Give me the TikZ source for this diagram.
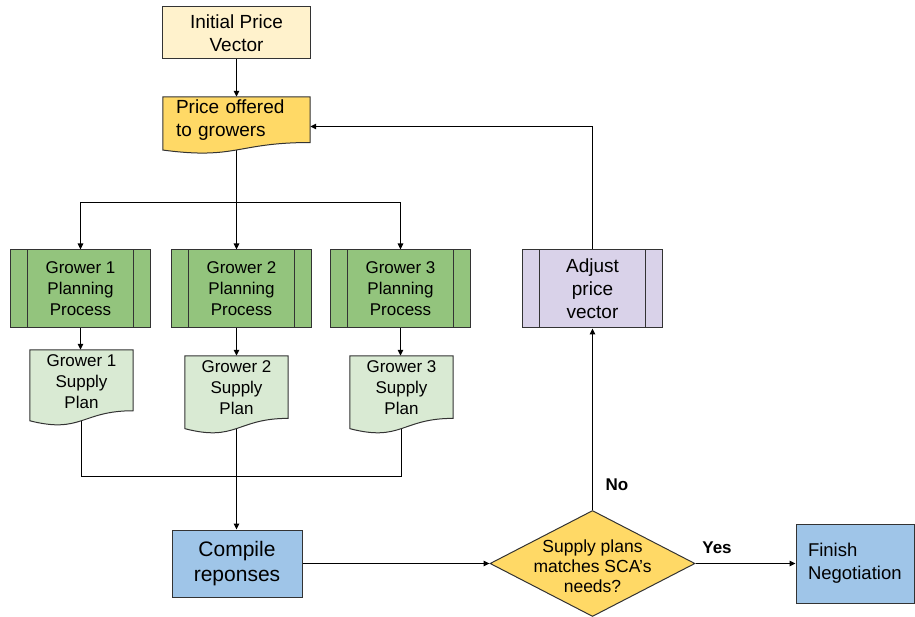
\documentclass[tikz,border=0pt]{standalone}
\usepackage{fontspec}
\setmainfont{Liberation Sans}
\usetikzlibrary{arrows.meta,shapes.geometric,calc}

\definecolor{edgecol}{HTML}{333333}
\definecolor{initfill}{HTML}{FFF2CC}
\definecolor{offerfill}{HTML}{FFD966}
\definecolor{procfill}{HTML}{93C47D}
\definecolor{planfill}{HTML}{D9EAD3}
\definecolor{adjfill}{HTML}{D9D2E9}
\definecolor{bluefill}{HTML}{9FC5E8}
\definecolor{decfill}{HTML}{FFD966}

% connectors go below the document outlines, which go below the boxes
\pgfdeclarelayer{lines}
\pgfdeclarelayer{docs}
\pgfsetlayers{lines,docs,main}

\newcommand\fs[2]{\fontsize{#1}{#2}\selectfont}

% document outline (wavy bottom) hung from a node's top edge; #3 = full height
\newcommand\docshape[3]{%
  \path[docline, fill=#2] let \p1=(#1.north west), \p2=(#1.north east) in
    (\p1) -- (\p2) -- (\x2,{\y1-0.802*#3})
    .. controls ({0.5*\x1+0.5*\x2},{\y1-0.802*#3}) and ({0.5*\x1+0.5*\x2},{\y1-1.107*#3})
    .. (\x1,{\y1-0.934*#3}) -- cycle;}

\begin{document}
\begin{tikzpicture}[x=1pt,y=1pt,
  box/.style={rectangle, draw=edgecol, line width=1pt, inner sep=0pt, align=center},
  proc/.style={box, minimum width=140pt, minimum height=78pt, font=\fs{17}{21},
    path picture={\draw[edgecol, line width=1pt]
      ([xshift=17pt]path picture bounding box.north west) -- ([xshift=17pt]path picture bounding box.south west)
      ([xshift=-17pt]path picture bounding box.north east) -- ([xshift=-17pt]path picture bounding box.south east);}},
  doctext/.style={rectangle, inner sep=0pt, align=center, font=\fs{17}{21},
    minimum width=103pt, minimum height=64pt},
  docline/.style={draw=edgecol, line width=1pt},
  conn/.style={draw=black, line width=1.1pt},
  arr/.style={conn, -{Triangle[length=6pt,width=5.5pt]}},
  tag/.style={font=\bfseries\fs{17}{20}, inner sep=0pt},
]
\useasboundingbox (0,0) rectangle (915,-617);

% top of the flow
\node[box, fill=initfill, minimum width=148pt, minimum height=52pt, font=\fs{19}{23}]
  (init) at (236.5,-33) {Initial Price\\Vector};
\node[rectangle, inner sep=0pt, inner xsep=13pt, text width=121pt, minimum height=46pt,
  align=left, font=\fs{19}{23}] (offer) at (236.5,-120) {Price offered\\to growers};

% growers
\node[proc, fill=procfill] (g1) at (80.5,-289) {Grower 1\\Planning\\Process};
\node[proc, fill=procfill] (g2) at (241.5,-289) {Grower 2\\Planning\\Process};
\node[proc, fill=procfill] (g3) at (400.5,-289) {Grower 3\\Planning\\Process};

\node[doctext] (s1) at (81.5,-382) {Grower 1\\Supply\\Plan};
\node[doctext] (s2) at (236.5,-388) {Grower 2\\Supply\\Plan};
\node[doctext] (s3) at (401.5,-388) {Grower 3\\Supply\\Plan};

% feedback loop
\node[proc, fill=adjfill, font=\fs{19}{23}] (adj) at (592.5,-289) {Adjust\\price\\vector};

% bottom row
\node[box, fill=bluefill, minimum width=130pt, minimum height=67pt, font=\fs{21}{25}]
  (comp) at (237,-563.5) {Compile\\reponses};
\node[diamond, draw=edgecol, line width=1pt, fill=decfill, minimum width=205pt,
  minimum height=106pt, inner sep=0pt] (dec) at (592.5,-563.5) {};
\node[font=\fs{17.5}{20}, align=center, inner sep=0pt] (dectext) at (592.5,-566)
  {Supply plans\\matches SCA's\\needs?};
\node[box, fill=bluefill, minimum width=118pt, minimum height=79pt, inner xsep=12pt,
  text width=94pt, align=left, font=\fs{18.5}{23}] (fin) at (855,-563.5) {Finish\\Negotiation};

\node[tag] (yes) at (717,-548) {Yes};
\node[tag] (no) at (617,-485) {No};

\begin{pgfonlayer}{docs}
  \docshape{offer}{offerfill}{57}
  \docshape{s1}{planfill}{76}
  \docshape{s2}{planfill}{78}
  \docshape{s3}{planfill}{78}
\end{pgfonlayer}

\coordinate (split) at (236.5,-202.5);
\coordinate (merge) at (236.5,-476.5);

\begin{pgfonlayer}{lines}
  \draw[arr] (init.south) -- (init.south |- offer.north);
  \draw[conn] (offer.south) -- (split);
  \draw[arr] (split) -| (g1.north);
  \draw[arr] (split) -- (split |- g2.north);
  \draw[arr] (split) -| (g3.north);
  \draw[arr] (g1.south) -- (g1.south |- s1.north);
  \draw[arr] (s2.north |- g2.south) -- (s2.north);
  \draw[arr] (g3.south) -- (g3.south |- s3.north);
  \draw[conn] (s1.south) |- (merge) -| (s3.south);
  \draw[arr] (s2.south) -- (s2.south |- comp.north);
  \draw[arr] (comp.east) -- (dec.west);
  \draw[arr] (dec.east) -- (fin.west);
  \draw[arr] (dec.north) -- (adj.south);
  \draw[arr] (adj.north) |- ([yshift=-6.5pt]offer.east);
\end{pgfonlayer}
\end{tikzpicture}
\end{document}
